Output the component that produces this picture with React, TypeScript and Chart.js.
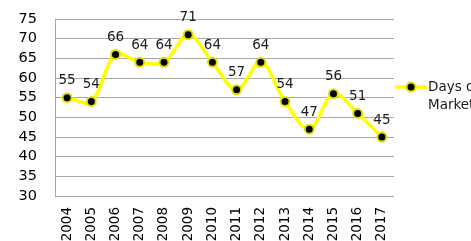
import React, { useEffect, useRef } from "react";
import { Chart, registerables } from "chart.js";

Chart.register(...registerables);

const years = ["2004", "2005", "2006", "2007", "2008", "2009", "2010", "2011", "2012", "2013", "2014", "2015", "2016", "2017"];
const daysOnMarket = [55, 54, 66, 64, 64, 71, 64, 57, 64, 54, 47, 56, 51, 45];
const seriesName = ["Days on", "Market"];
const yMin = 30;
const yMax = 75;
const yStep = 5;

const FONT = "'DejaVu Sans', Verdana, sans-serif";

const dataLabels = {
  id: "dataLabels",
  afterDatasetsDraw(chart: any) {
    const ctx = chart.ctx;
    const meta = chart.getDatasetMeta(0);
    const data = chart.data.datasets[0].data as number[];
    ctx.save();
    ctx.font = `13.5px ${FONT}`;
    ctx.fillStyle = "#1a1a1a";
    ctx.textAlign = "center";
    ctx.textBaseline = "middle";
    meta.data.forEach((pt: any, i: number) => {
      ctx.fillText(String(data[i]), pt.x, pt.y - 17);
    });
    ctx.restore();
  },
};

const sideLegend = {
  id: "sideLegend",
  afterDraw(chart: any) {
    const ctx = chart.ctx;
    const area = chart.chartArea;
    const x0 = area.right + 1;
    const y = 87;
    ctx.save();
    ctx.strokeStyle = "#FFFF00";
    ctx.lineWidth = 3.5;
    ctx.beginPath();
    ctx.moveTo(x0, y);
    ctx.lineTo(x0 + 32, y);
    ctx.stroke();
    ctx.beginPath();
    ctx.arc(x0 + 16, y, 4.5, 0, Math.PI * 2);
    ctx.fillStyle = "#000000";
    ctx.fill();
    ctx.lineWidth = 2;
    ctx.strokeStyle = "#E0E000";
    ctx.stroke();
    ctx.font = `13.5px ${FONT}`;
    ctx.fillStyle = "#1a1a1a";
    ctx.textAlign = "left";
    ctx.textBaseline = "middle";
    seriesName.forEach((line, i) => {
      ctx.fillText(line, x0 + 33, y + i * 18);
    });
    ctx.restore();
  },
};

export default function App() {
  const ref = useRef<HTMLCanvasElement>(null);
  useEffect(() => {
    document.body.style.margin = "0";
    const chart = new Chart(ref.current!, {
      type: "line",
      data: {
        labels: years,
        datasets: [
          {
            label: "Days on Market",
            data: daysOnMarket,
            borderColor: "#FFFF00",
            borderWidth: 3.5,
            tension: 0.35,
            pointRadius: 4.5,
            pointBackgroundColor: "#000000",
            pointBorderColor: "#E0E000",
            pointBorderWidth: 2,
          },
        ],
      },
      options: {
        animation: false,
        responsive: false,
        maintainAspectRatio: false,
        layout: { padding: { top: 19, right: 77, left: 0, bottom: 0 } },
        plugins: { legend: { display: false }, tooltip: { enabled: false } },
        scales: {
          x: {
            offset: true,
            grid: { display: false, drawTicks: false },
            border: { display: false },
            ticks: {
              minRotation: 90,
              maxRotation: 90,
              autoSkip: false,
              padding: 11,
              color: "#000000",
              font: { family: FONT, size: 13.5 },
            },
            afterFit(scale: any) {
              scale.height = 45;
              scale.paddingLeft = 0;
              scale.paddingRight = 0;
              scale.paddingTop = 0;
              scale.paddingBottom = 0;
            },
          },
          y: {
            min: yMin,
            max: yMax,
            grid: { color: "#A6A6A6", drawTicks: false, lineWidth: 1 },
            border: { display: true, color: "#A6A6A6" },
            ticks: {
              stepSize: yStep,
              autoSkip: false,
              padding: 18,
              color: "#000000",
              font: { family: FONT, size: 14.5 },
            },
            afterFit(scale: any) {
              scale.width = 55;
              scale.paddingTop = 0;
              scale.paddingBottom = 0;
              scale.paddingLeft = 0;
              scale.paddingRight = 0;
            },
          },
        },
      },
      plugins: [dataLabels, sideLegend],
    });
    return () => chart.destroy();
  }, []);
  return (
    <div style={{ position: "fixed", left: 0, top: 0, width: 471, height: 241, background: "#fff" }}>
      <canvas ref={ref} width={471} height={241} style={{ display: "block" }} />
    </div>
  );
}
